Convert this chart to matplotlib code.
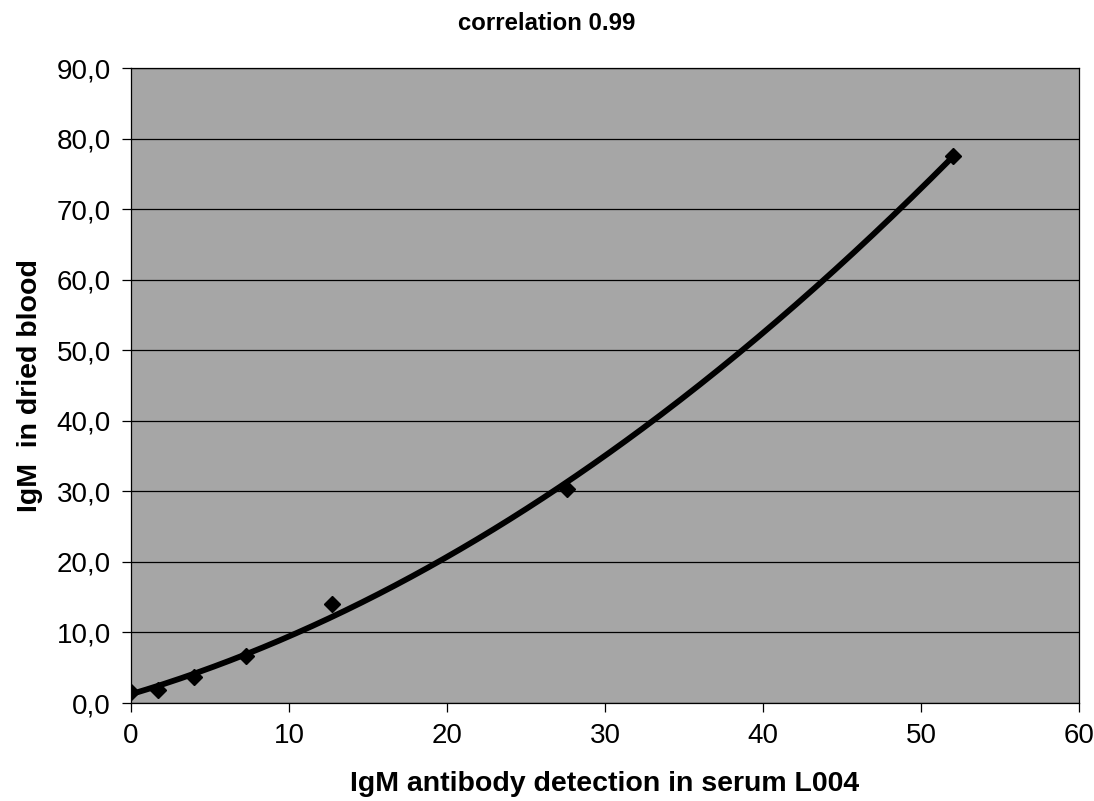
import numpy as np
import matplotlib
matplotlib.use("Agg")
import matplotlib.pyplot as plt
from matplotlib.ticker import FuncFormatter

plt.rcParams['font.family'] = ['Liberation Sans', 'DejaVu Sans']

serum = [0.0, 1.7, 4.0, 7.3, 12.7, 27.6, 52.0]
dried_blood = [1.5, 1.9, 3.7, 6.7, 14.0, 30.3, 77.6]
x_ticks = [0, 10, 20, 30, 40, 50, 60]
y_ticks = [0, 10, 20, 30, 40, 50, 60, 70, 80, 90]

fig = plt.figure(figsize=(10.94, 8.01), dpi=100)
ax = fig.add_axes([0.1197, 0.1223, 0.8666, 0.7927])
ax.set_facecolor('#a6a6a6')

# polynomial (order 2) trendline fitted to the data
coef = np.polyfit(serum, dried_blood, 2)
xs = np.linspace(min(serum), max(serum), 300)
ax.plot(xs, np.polyval(coef, xs), color='black', lw=4.2, solid_capstyle='round', zorder=3)
ax.plot(serum, dried_blood, linestyle='none', marker='D', markersize=8,
        color='black', zorder=4)

ax.set_xlim(0, 60)
ax.set_ylim(0, 90)
ax.set_xticks(x_ticks)
ax.set_yticks(y_ticks)
ax.yaxis.set_major_formatter(FuncFormatter(lambda v, p: f"{v:.1f}".replace('.', ',')))
ax.yaxis.grid(True, color='black', lw=0.9)
ax.set_axisbelow(True)
for s in ax.spines.values():
    s.set_color('black')
    s.set_linewidth(0.9)
ax.tick_params(axis='both', direction='out', length=6.5, width=0.9, labelsize=20, pad=8)

ax.set_xlabel('IgM antibody detection in serum L004', fontsize=20.5, fontweight='bold', labelpad=16)
ax.set_ylabel('IgM  in dried blood', fontsize=20.5, fontweight='bold', labelpad=10)
fig.text(0.4995, 0.971, 'correlation 0.99', ha='center', va='center', fontsize=17.3, fontweight='bold')

fig.savefig('out.png', dpi=100, facecolor='white')
